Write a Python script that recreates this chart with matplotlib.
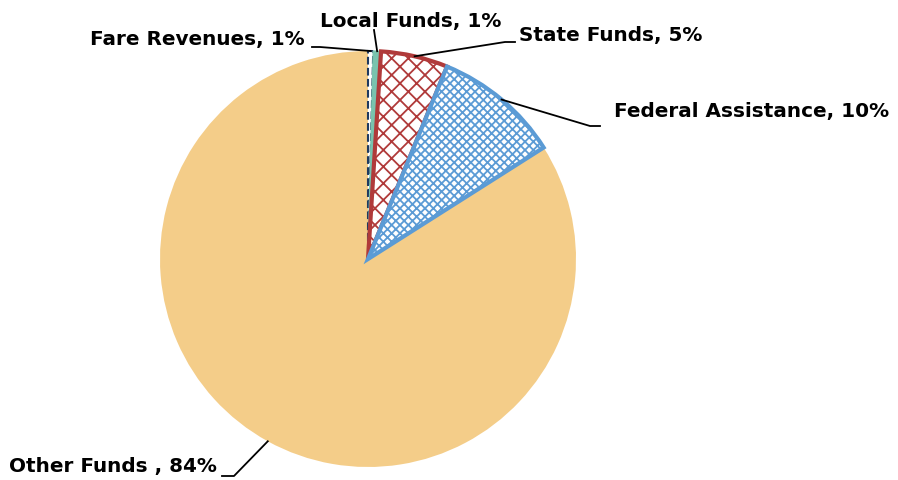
import numpy as np
import matplotlib
matplotlib.use('Agg')
import matplotlib.pyplot as plt

# =====================================
# DATA
# =====================================
sources = ['Fare Revenues', 'Local Funds', 'State Funds', 'Federal Assistance', 'Other Funds ']
shares = [0.4, 0.6, 5.2, 9.8, 84.0]
pct_labels = ['1%', '1%', '5%', '10%', '84%']

fills = ['white', '#79C3AE', 'white', 'white', '#F4CD89']
edges = ['#1F3A60', '#79C3AE', '#B03A3A', '#5B9BD5', '#F4CD89']
hatches = [None, None, 'xx', 'xxxx', None]
styles = ['--', '-', '-', '-', '-']
widths = [1.5, 1.0, 3.0, 3.0, 0.0]

# =====================================
# FIGURE (axes in pixel units, y up)
# =====================================
W, H = 898, 481
plt.rcParams['hatch.linewidth'] = 1.3
fig = plt.figure(figsize=(W / 100, H / 100), dpi=100)
ax = fig.add_axes([0, 0, 1, 1])

cx, cy, R = 368, H - 260, 208
wedges, _ = ax.pie(shares, startangle=90, counterclock=False,
                   center=(cx, cy), radius=R, frame=True)
for w, f, e, h, ls, lw in zip(wedges, fills, edges, hatches, styles, widths):
    w.set_facecolor(f)
    w.set_edgecolor(e)
    w.set_linestyle(ls)
    w.set_linewidth(lw)
    if h:
        w.set_hatch(h)
# outlined slices on top so thick borders are not hidden
for i in [0, 1, 2, 3]:
    wedges[i].set_zorder(3 + i)
wedges[4].set_zorder(2)

ax.set_xlim(0, W)
ax.set_ylim(0, H)
ax.set_aspect('equal')
ax.axis('off')

# =====================================
# LABELS WITH LEADER LINES
# elbow / end point / text anchor in image pixels (y down)
# =====================================
layout = [
    ((320, 48), (312, 48), (305, 40), 'right'),
    ((374, 31), (374, 31), (320, 21), 'left'),
    ((505, 43), (515, 43), (519, 35), 'left'),
    ((590, 127), (600, 127), (614, 112), 'left'),
    ((234, 477), (222, 477), (217, 467), 'right'),
]

for w, name, pct, (elb, end, txy, ha) in zip(wedges, sources, pct_labels, layout):
    mid = np.deg2rad((w.theta1 + w.theta2) / 2)
    sx = cx + R * np.cos(mid)
    sy = cy + R * np.sin(mid)
    xs = [sx, elb[0], end[0]]
    ys = [sy, H - elb[1], H - end[1]]
    ax.plot(xs, ys, color='black', lw=1.3, zorder=10)
    ax.text(txy[0], H - txy[1], f'{name}, {pct}', ha=ha, va='center',
            fontsize=14.4, fontweight='bold', family='DejaVu Sans', color='black')

fig.savefig('out.png', dpi=100)
